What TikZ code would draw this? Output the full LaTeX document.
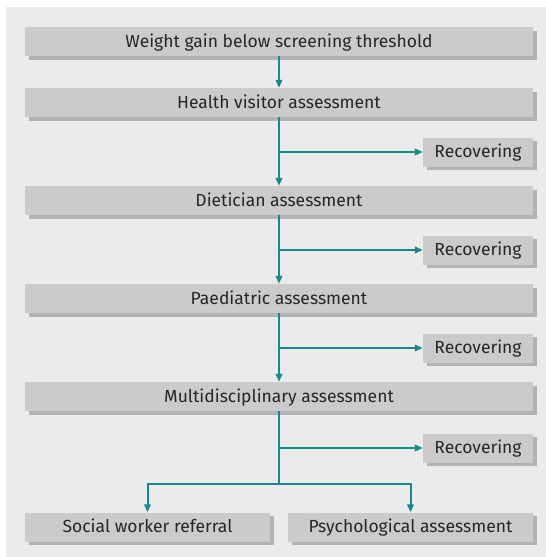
\documentclass[tikz,border=0pt]{standalone}
\usepackage{fontspec}
\setmainfont{Fira Sans}
\usetikzlibrary{arrows.meta,shadows}

\definecolor{panel}{HTML}{EBEBEB}
\definecolor{boxgrey}{HTML}{CBCBCB}
\definecolor{shadowgrey}{HTML}{B3B3B3}
\definecolor{teal}{HTML}{16898A}

\tikzset{
  stagebox/.style={fill=boxgrey, minimum height=29pt, inner sep=0pt, text=black!85,
    font=\fontsize{17.5}{19}\selectfont, text height=13pt, text depth=2pt,
    drop shadow={shadow xshift=3.5pt, shadow yshift=-3.5pt, fill=shadowgrey, opacity=1}},
  mainbox/.style={stagebox, minimum width=508pt},
  outbox/.style={stagebox, minimum width=110pt},
  endbox/.style={stagebox, minimum width=245pt},
  flow/.style={draw=teal, line width=2pt},
}

\begin{document}
\begin{tikzpicture}[x=1pt, y=-1pt, >={Triangle[length=8pt,width=6.5pt]}]
\useasboundingbox (0,0) rectangle (546,557);
\fill[panel] (6,7) rectangle (546,557);

\node[mainbox] (weight) at (279,41.5) {Weight gain below screening threshold};
\node[mainbox] (health) at (279,102.5) {Health visitor assessment};
\node[outbox] (rec1) at (478,152) {Recovering};
\node[mainbox] (diet) at (279,200.5) {Dietician assessment};
\node[outbox] (rec2) at (478,250) {Recovering};
\node[mainbox] (paed) at (279,298.5) {Paediatric assessment};
\node[outbox] (rec3) at (478,348) {Recovering};
\node[mainbox] (multi) at (279,396.5) {Multidisciplinary assessment};
\node[outbox] (rec4) at (478,448) {Recovering};
\node[endbox] (social) at (147.5,527) {Social worker referral};
\node[endbox] (psych) at (410.5,527) {Psychological assessment};
\coordinate (split) at (279,484);

% main line
\draw[flow, ->] (weight) -- (health);
\draw[flow, ->] (health) -- (diet);
\draw[flow, ->] (diet) -- (paed);
\draw[flow, ->] (paed) -- (multi);

% side exits
\foreach \from/\to in {health/rec1, diet/rec2, paed/rec3, multi/rec4} {
  \draw[flow, ->] (\from.south |- \to.west) -- (\to.west);
}
\draw[flow] (multi.south) -- (split);
\draw[flow, ->] (split) -| (social.north);
\draw[flow, ->] (split) -| (psych.north);
\end{tikzpicture}
\end{document}
